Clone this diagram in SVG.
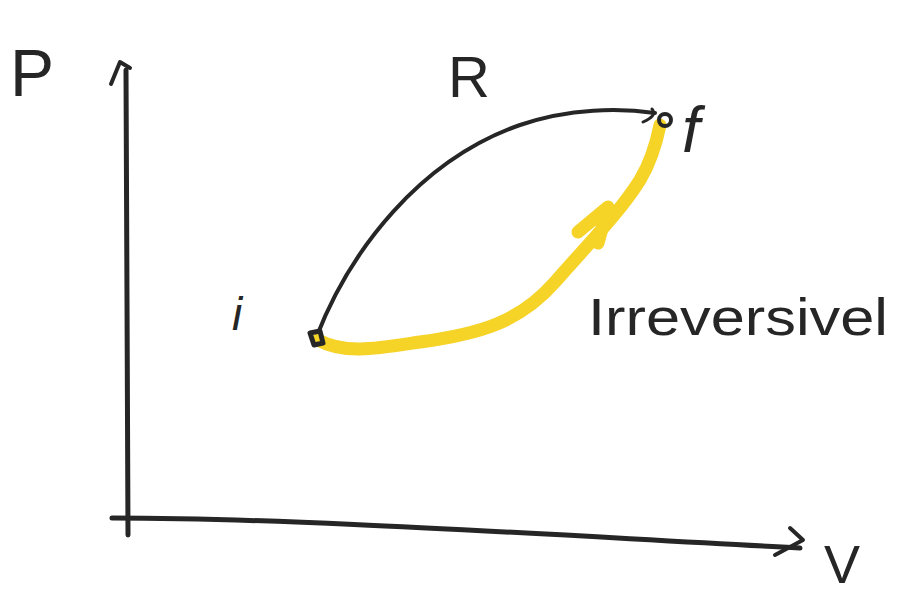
<svg xmlns="http://www.w3.org/2000/svg" width="898" height="595" viewBox="0 0 898 595">
<style>
.ink{fill:none;stroke:#262626;stroke-linecap:round;stroke-linejoin:round}
.lbl{font-family:"Liberation Sans",Arial,sans-serif;fill:#262626}
.yel{fill:none;stroke:#f5d327;stroke-linecap:round;stroke-linejoin:round}
</style>
<rect width="898" height="595" fill="#ffffff"/>
<g id="axes">
<path class="ink" stroke-width="5" d="M126,70 L127,300 L128,535"/>
<path class="ink" stroke-width="4" d="M111,84 L120,62 L130,68"/>
<path class="ink" stroke-width="5" d="M112,518 C300,518 550,535 800,548"/>
<path class="ink" stroke-width="4" d="M790,528 L803,540 L775,555"/>
</g>
<g id="labels">
<text class="lbl" x="10" y="96" font-size="66">P</text>
<text class="lbl" x="448" y="97" font-size="58">R</text>
<text class="lbl" x="682" y="152" font-size="64" font-style="italic">f</text>
<text class="lbl" x="232" y="330" font-size="46" font-style="italic">i</text>
<text class="lbl" x="588" y="335" font-size="52" textLength="300" lengthAdjust="spacingAndGlyphs">Irreversivel</text>
<text class="lbl" x="824" y="583" font-size="54">V</text>
</g>
<g id="connectors">
<path id="reversible" class="ink" stroke-width="4" d="M316,338 C350,250 420,160 520,125 C570,108 620,108 655,113"/>
<path class="ink" stroke-width="3" d="M643,122 C652,118 656,114 652,109"/>
<path id="irreversible" class="yel" stroke-width="13" d="M318,340 C345,355 380,348 420,342 C480,334 520,322 555,282 C590,242 620,212 640,180 C652,160 657,140 660,125"/>
<path class="yel" stroke-width="13" d="M578,232 L608,207 L598,243"/>
</g>
<g id="nodes">
<g id="node-i"><path class="ink" stroke-width="5" d="M310,333 L320,331 L323,343 L314,345 Z" fill="#262626"/></g>
<g id="node-f"><circle cx="665" cy="120" r="6" fill="none" stroke="#262626" stroke-width="4"/></g>
</g>
</svg>
